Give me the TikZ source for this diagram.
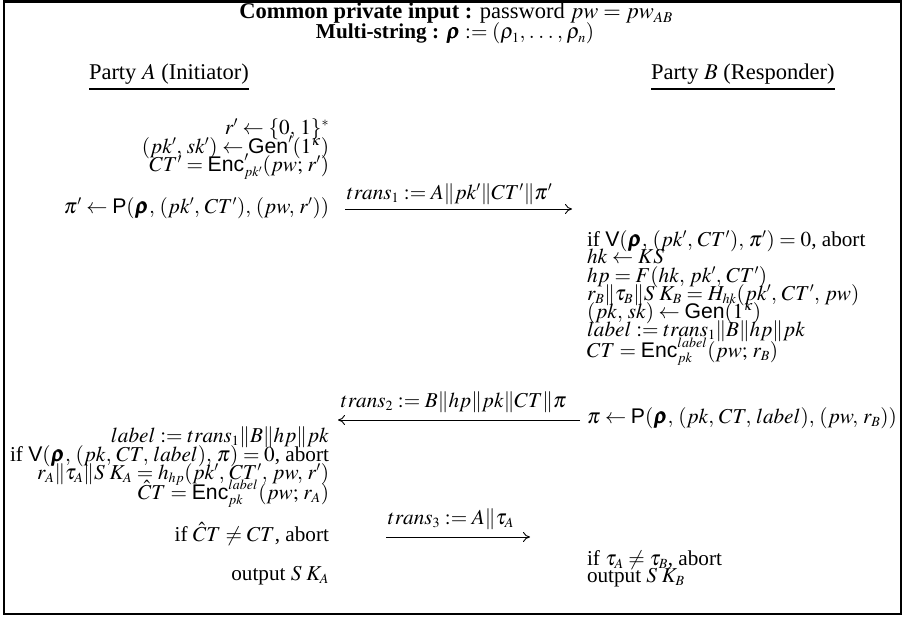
\documentclass[tikz,border=0pt]{standalone}
\usepackage{amsmath}
\usepackage{mathptmx}
\usepackage{bm}
\usepackage{fontspec}
\setmainfont{Liberation Serif}
\setsansfont{Liberation Sans}
\usetikzlibrary{arrows.meta}

% algorithm names in sans serif
\newcommand{\algGen}{\textsf{Gen}}
\newcommand{\algEnc}{\textsf{Enc}}
\newcommand{\algP}{\textsf{P}}
\newcommand{\algV}{\textsf{V}}
\newcommand{\crs}{\bm{\rho}}
\newcommand{\skey}{S\,K}
% a little more room after commas in formulas
\thinmuskip=4mu
% text, script and scriptscript sizes
\DeclareMathSizes{21.2}{21.2}{14}{10}
\DeclareMathSizes{22.5}{22.5}{15}{11}

\tikzset{
  txt/.style={inner sep=0pt, outer sep=0pt, font=\fontsize{21.2}{18}\selectfont},
  bigtxt/.style={inner sep=0pt, outer sep=0pt, font=\fontsize{22.5}{20}\selectfont},
  lcol/.style={txt, anchor=base east},
  rcol/.style={txt, anchor=base west},
  mlabel/.style={txt, anchor=base west},
  msg/.style={line width=0.9pt, -{To[length=7pt,width=10pt]}},
  partyline/.style={line width=2pt},
  frame/.style={line width=2.5pt}
}

\begin{document}
\begin{tikzpicture}[x=1pt,y=-1pt]
\useasboundingbox (0,0) rectangle (905,618);
\draw[frame] (4,1.3) rectangle (901,614);

% header
\node[bigtxt, anchor=base] (title1) at (456,19) {\textbf{Common private input :} password $pw = pw_{AB}$};
\node[txt, anchor=base] (title2) at (455,39) {\thinmuskip=3mu\textbf{Multi-string :} $\crs := (\rho_1, \ldots, \rho_n)$};

% parties
\node[bigtxt, anchor=base west] (pa) at (89,79) {Party $A$ (Initiator)};
\node[bigtxt, anchor=base west] (pb) at (651,79) {Party $B$ (Responder)};
\draw[partyline] ([yshift=-10pt]pa.base west) -- ([yshift=-10pt]pa.base east);
\draw[partyline] ([yshift=-10pt]pb.base west) -- ([yshift=-10pt]pb.base east);

% party A, first round
\node[lcol] (a1) at (329,134) {$r' \leftarrow \{0,1\}^*$};
\node[lcol] (a2) at (329,153) {$(pk', sk') \leftarrow \algGen'(1^\kappa)$};
\node[lcol] (a3) at (329,171) {$CT' = \algEnc'_{pk'}(pw; r')$};
\node[lcol] (a4) at (329,213) {$\pi' \leftarrow \algP(\crs, (pk', CT'), (pw, r'))$};

% message 1
\coordinate (m1s) at (345,209);
\coordinate (m1e) at (572,209);
\draw[msg] (m1s) -- (m1e);
\node[mlabel] (l1) at (347,199) {$trans_1 := A\|pk'\|CT'\|\pi'$};

% party B
\node[rcol] (b1) at (587,246) {if $\algV(\crs, (pk', CT'), \pi') = 0$, abort};
\node[rcol] (b2) at (587,263) {$hk \leftarrow KS$};
\node[rcol] (b3) at (587,282) {$hp = F(hk, pk', CT')$};
\node[rcol] (b4) at (587,300) {$r_B\|\tau_B\|\skey_B = H_{hk}(pk', CT', pw)$};
\node[rcol] (b5) at (587,318) {$(pk, sk) \leftarrow \algGen(1^\kappa)$};
\node[rcol] (b6) at (587,336) {$label := trans_1\|B\|hp\|pk$};
\node[rcol] (b7) at (587,357) {$CT = \algEnc^{label}_{pk}(pw; r_B)$};
\node[rcol] (b8) at (587,423) {$\pi \leftarrow \algP(\crs, (pk, CT, label), (pw, r_B))$};

% message 2
\coordinate (m2s) at (580,420);
\coordinate (m2e) at (338,420);
\draw[msg] (m2s) -- (m2e);
\node[mlabel] (l2) at (341,407) {$trans_2 := B\|hp\|pk\|CT\|\pi$};

% party A, second round
\node[lcol] (a5) at (329,442) {$label := trans_1\|B\|hp\|pk$};
\node[lcol] (a6) at (329,461) {if $\algV(\crs, (pk, CT, label), \pi) = 0$, abort};
\node[lcol] (a7) at (329,479) {$r_A\|\tau_A\|\skey_A = h_{hp}(pk', CT', pw, r')$};
\node[lcol] (a8) at (329,499) {$\hat{C}T = \algEnc^{label}_{pk}(pw; r_A)$};
\node[lcol] (a9) at (329,541) {if $\hat{C}T \neq CT$, abort};

% message 3
\coordinate (m3s) at (386,537);
\coordinate (m3e) at (530,537);
\draw[msg] (m3s) -- (m3e);
\node[mlabel] (l3) at (388,524) {$trans_3 := A\|\tau_A$};

% outputs
\node[lcol] (a10) at (329,580) {output $\skey_A$};
\node[rcol] (b9) at (587,565) {if $\tau_A \neq \tau_B$, abort};
\node[rcol] (b10) at (587,582) {output $\skey_B$};
\end{tikzpicture}
\end{document}
